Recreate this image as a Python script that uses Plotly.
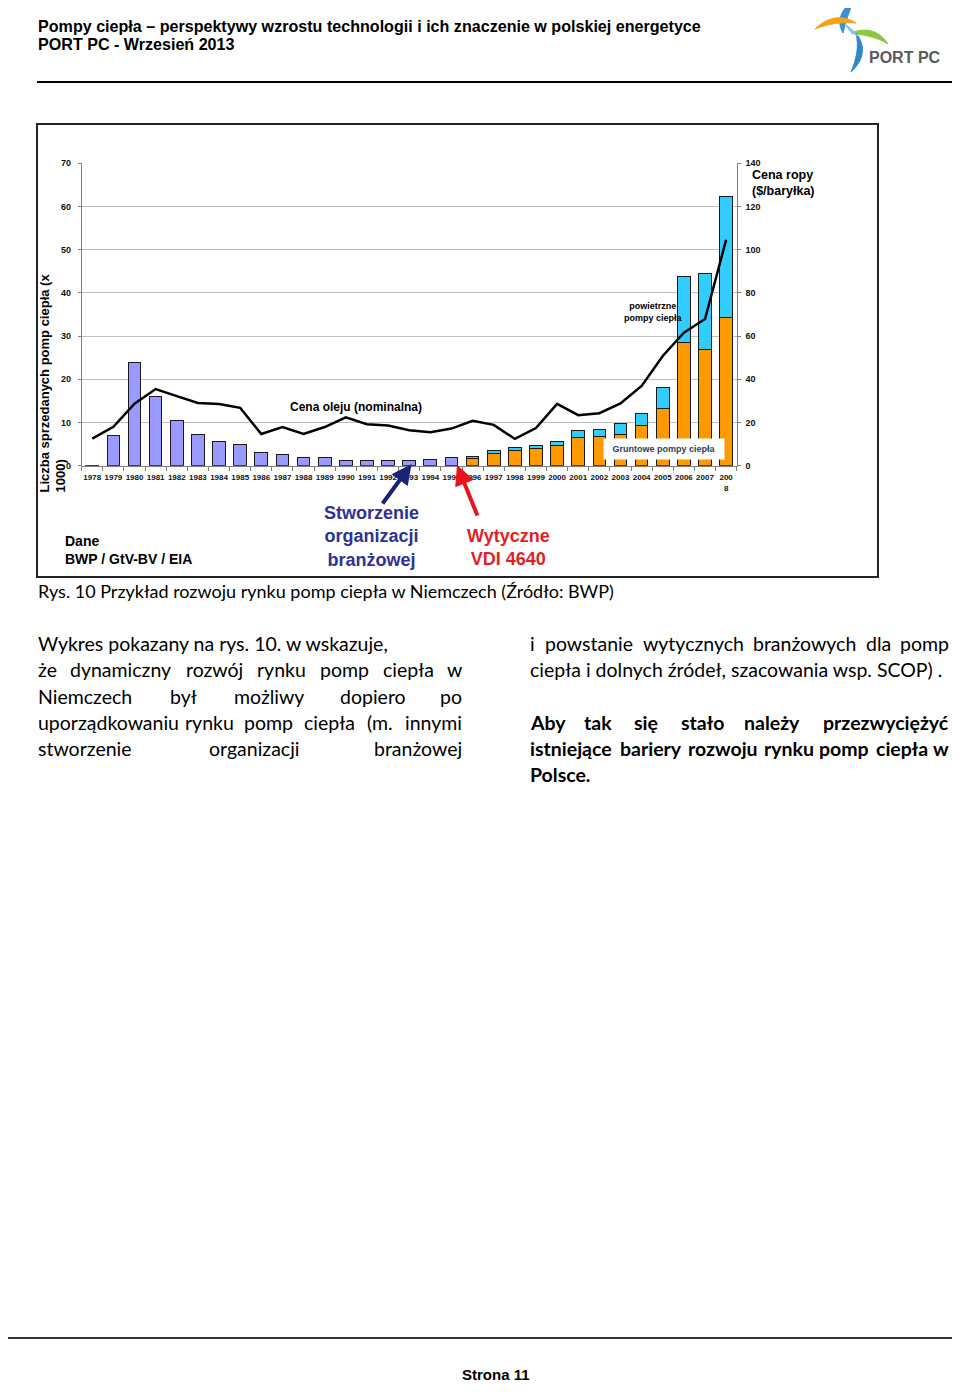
import plotly.graph_objects as go

# page is 960x1393; browser body keeps its default 8px margin,
# so the figure itself is 944x1377 and page pixels are offset by 8
PAGE_W, PAGE_H = 960, 1393
OFF = 8
W, H = PAGE_W - 2 * OFF, PAGE_H - 2 * OFF

# ---------------- data ----------------
years = [str(y) for y in range(1978, 2009)]
year_labels = years[:-1] + ["200<br>8"]

# total sales before split (x1000), 1978-1995
early_sales = [0.1, 7.0, 24.0, 16.0, 10.4, 7.2, 5.7, 4.9, 3.0, 2.5, 1.85, 1.8,
               1.2, 1.1, 1.1, 1.2, 1.4, 1.85]
# ground-source heat pumps (x1000), 1996-2008
ground_hp = [1.7, 2.85, 3.6, 4.0, 4.6, 6.5, 6.7, 7.3, 9.2, 13.2, 28.5, 26.8, 34.3]
# air-source heat pumps (x1000), 1996-2008
air_hp = [0.5, 0.65, 0.7, 0.7, 1.0, 1.7, 1.6, 2.4, 3.0, 5.0, 15.3, 17.8, 28.0]
# oil price nominal ($/barrel), 1978-2008
oil_price = [12.5, 18.0, 28.7, 35.5, 32.2, 29.0, 28.6, 26.8, 14.7, 17.9, 14.7, 17.9,
             22.4, 19.2, 18.6, 16.4, 15.5, 17.2, 20.8, 18.9, 12.4, 17.4, 28.6, 23.4,
             24.3, 28.8, 36.9, 50.8, 61.6, 67.9, 104.6]

n_early = len(early_sales)
n_late = len(ground_hp)

# ---------------- helpers ----------------
def px(x):
    return (x - OFF) / W

def py(y):
    return 1 - (y - OFF) / H

NARROW = "Liberation Sans Narrow, Arial Narrow, Liberation Sans, Arial, sans-serif"
ARIAL = "Liberation Sans, Arial, sans-serif"
BODY = "Lato, Calibri, Carlito, sans-serif"

BODY_SIZE = 19.5
RIGHT_EDGE = 950  # last visible pixel column of the figure is 952

annotations = []
shapes = []

def text(x, y, s, size, family=ARIAL, weight="normal", color="black",
         xanchor="left", yanchor="middle", align="left", angle=0, **kw):
    annotations.append(dict(
        x=px(x), y=py(y), xref="paper", yref="paper", text=s, showarrow=False,
        xanchor=xanchor, yanchor=yanchor, align=align, textangle=angle,
        font=dict(family=family, size=size, color=color, weight=weight),
        borderpad=0, **kw))

def est_width(word, size, bold=False):
    w = 0.0
    for ch in word:
        if ch in "iljłíIt.,:;'!|":
            w += 0.26
        elif ch in "frtż()ź-":
            w += 0.34
        elif ch in "mM":
            w += 0.84
        elif ch in "wW":
            w += 0.74
        elif ch.isupper():
            w += 0.64
        elif ch.isdigit():
            w += 0.55
        else:
            w += 0.52
    if bold:
        w *= 1.04
    return w * size

def justify(words, x0, x1, y, size, bold=False):
    widths = [est_width(w, size, bold) for w in words]
    gap = (x1 - x0 - sum(widths)) / (len(words) - 1)
    pos = x0
    weight = "bold" if bold else "normal"
    for i, (wd, wdt) in enumerate(zip(words, widths)):
        if i == 0:
            text(x0, y, wd, size, BODY, weight)
        elif i == len(words) - 1:
            text(x1, y, wd, size, BODY, weight, xanchor="right")
        else:
            text(pos + wdt / 2, y, wd, size, BODY, weight, xanchor="center")
        pos += wdt + gap

# ---------------- traces ----------------
fig = go.Figure()
fig.add_bar(x=years, y=early_sales + [None] * n_late,
            marker=dict(color="#9999FF", line=dict(color="#1a1a1a", width=1)),
            name="sprzedaż")
fig.add_bar(x=years, y=[None] * n_early + ground_hp,
            marker=dict(color="#FF9900", line=dict(color="#1a1a1a", width=1)),
            name="Gruntowe pompy ciepła")
fig.add_bar(x=years, y=[None] * n_early + air_hp,
            marker=dict(color="#33CCFF", line=dict(color="#1a1a1a", width=1)),
            name="powietrzne pompy ciepła")
fig.add_scatter(x=years, y=oil_price, yaxis="y2", mode="lines",
                line=dict(color="black", width=2.5), name="Cena oleju")

# ---------------- page text ----------------
text(37, 26, "Pompy ciepła – perspektywy wzrostu technologii i ich znaczenie w polskiej energetyce",
     16.1, NARROW, "bold")
text(37, 44, "PORT PC - Wrzesień 2013", 16.1, NARROW, "bold")
shapes.append(dict(type="line", xref="paper", yref="paper", x0=px(37), x1=px(957),
                   y0=py(82), y1=py(82), line=dict(color="black", width=2)))

# logo (filled swooshes)
def cpath(pts):
    s = f"M {px(pts[0][0])},{py(pts[0][1])}"
    rest = pts[1:]
    for i in range(0, len(rest), 3):
        a, b, c = rest[i:i + 3]
        s += (f" C {px(a[0])},{py(a[1])} {px(b[0])},{py(b[1])} {px(c[0])},{py(c[1])}")
    return s + " Z"

logo_parts = [
    ([(854, 0), (841, 9), (836, 21), (843, 33), (846, 21), (849, 11), (854, 0)], "#3B8FD2"),
    ([(815, 29), (827, 17), (842, 14), (856, 23), (844, 22), (830, 23), (815, 29)], "#F4A21D"),
    ([(851, 33), (865, 27), (879, 30), (888, 44), (877, 37), (864, 35), (851, 33)], "#8DC63F"),
    ([(856, 33), (867, 47), (863, 61), (851, 72), (857, 58), (859, 46), (856, 33)], "#2F86C8"),
    ([(845, 24), (849, 27), (853, 30), (858, 36), (853, 34), (849, 31), (845, 24)], "#7FC4EC"),
]
for pts, col in logo_parts:
    shapes.append(dict(type="path", xref="paper", yref="paper", path=cpath(pts),
                       fillcolor=col, line=dict(color=col, width=1)))
text(868, 57, "PORT PC", 16, ARIAL, "bold", color="#58595B")

# chart frame
shapes.append(dict(type="rect", xref="paper", yref="paper", x0=px(37), x1=px(878),
                   y0=py(124), y1=py(577), line=dict(color="#222222", width=2)))

# chart annotations
text(53, 383.5, "Liczba sprzedanych pomp ciepła (x<br>1000)", 13, ARIAL, "bold",
     xanchor="center", align="left", angle=-90)
text(751, 183, "Cena ropy<br>($/baryłka)", 12.5, ARIAL, "bold")
text(356, 407, "Cena oleju (nominalna)", 12, ARIAL, "bold", xanchor="center")
text(653, 312, "powietrzne<br>pompy ciepła", 9, ARIAL, "bold", xanchor="center", align="center")
annotations.append(dict(x=px(664), y=py(449), xref="paper", yref="paper",
                        text="Gruntowe pompy ciepła", showarrow=False,
                        xanchor="center", yanchor="middle", width=118, height=18,
                        bgcolor="white", font=dict(family=ARIAL, size=9, weight="bold")))
text(64, 549.5, "Dane<br>BWP / GtV-BV / EIA", 14, ARIAL, "bold")
text(371, 537, "Stworzenie<br>organizacji<br>branżowej", 18, ARIAL, "bold",
     color="#2E3192", xanchor="center", align="center")
text(508, 547.5, "Wytyczne<br>VDI 4640", 18, ARIAL, "bold",
     color="#E31E24", xanchor="center", align="center")

# arrows
annotations.append(dict(x=px(411.5), y=py(464), xref="paper", yref="paper", text="",
                        showarrow=True, ax=-30, ay=41, arrowcolor="#1B2274",
                        arrowwidth=4, arrowhead=2, arrowsize=1.0))
annotations.append(dict(x=px(457), y=py(465), xref="paper", yref="paper", text="",
                        showarrow=True, ax=21, ay=52, arrowcolor="#E8141B",
                        arrowwidth=4, arrowhead=2, arrowsize=1.0))

# caption
text(37, 591, "Rys. 10 Przykład rozwoju rynku pomp ciepła w Niemczech (Źródło: BWP)", 18, BODY)

# body text, left column
text(37, 643, "Wykres pokazany na rys. 10. w wskazuje,", BODY_SIZE, BODY)
justify("że dynamiczny rozwój rynku pomp ciepła w".split(), 37, 463, 669, BODY_SIZE)
justify("Niemczech był możliwy dopiero po".split(), 37, 463, 696, BODY_SIZE)
justify("uporządkowaniu rynku pomp ciepła (m. innymi".split(), 37, 463, 722, BODY_SIZE)
justify("stworzenie organizacji branżowej".split(), 37, 463, 748, BODY_SIZE)
# right column
justify("i powstanie wytycznych branżowych dla pomp".split(), 529, RIGHT_EDGE, 643, BODY_SIZE)
text(529, 669, "ciepła i dolnych źródeł, szacowania wsp. SCOP) .", BODY_SIZE, BODY)
justify("Aby tak się stało należy przezwyciężyć".split(), 529, RIGHT_EDGE, 722, BODY_SIZE, bold=True)
justify("istniejące bariery rozwoju rynku pomp ciepła w".split(), 529, RIGHT_EDGE, 748,
        BODY_SIZE, bold=True)
text(529, 774, "Polsce.", BODY_SIZE, BODY, "bold")

# footer
shapes.append(dict(type="line", xref="paper", yref="paper", x0=px(0), x1=px(957),
                   y0=py(1338), y1=py(1338), line=dict(color="#333333", width=2)))
text(496, 1384, "Strona 11", 15, NARROW, "bold", xanchor="center", yanchor="bottom")

# ---------------- layout ----------------
tickfont_x = dict(family=NARROW, size=8, color="#111111", weight="bold")
tickfont_y = dict(family=NARROW, size=9, color="#111111", weight="bold")
fig.update_layout(
    width=W, height=H, margin=dict(l=0, r=0, t=0, b=0, autoexpand=False),
    paper_bgcolor="white", plot_bgcolor="white",
    showlegend=False, barmode="stack", bargap=0.4,
    xaxis=dict(domain=[px(81.7), px(736.7)], type="category",
               tickmode="array", tickvals=years, ticktext=year_labels,
               ticks="outside", tickson="boundaries", ticklen=4, tickcolor="#808080",
               showline=True, linecolor="#808080", linewidth=1,
               tickfont=tickfont_x, tickangle=0, showgrid=False,
               ticklabelstandoff=4),
    yaxis=dict(domain=[py(465.7), py(163.3)], range=[0, 70], dtick=10,
               showgrid=True, gridcolor="#BFBFBF", gridwidth=1, zeroline=False,
               showline=True, linecolor="#808080", ticks="outside", ticklen=3,
               tickcolor="#808080", tickfont=tickfont_y, ticklabelstandoff=5),
    yaxis2=dict(overlaying="y", side="right", range=[0, 140], dtick=20,
                showgrid=False, zeroline=False, showline=True, linecolor="#808080",
                ticks="outside", ticklen=3, tickcolor="#808080",
                tickfont=tickfont_y, anchor="x", ticklabelstandoff=3),
    annotations=annotations, shapes=shapes,
)

fig.write_html("out.html", config={"displayModeBar": False})
